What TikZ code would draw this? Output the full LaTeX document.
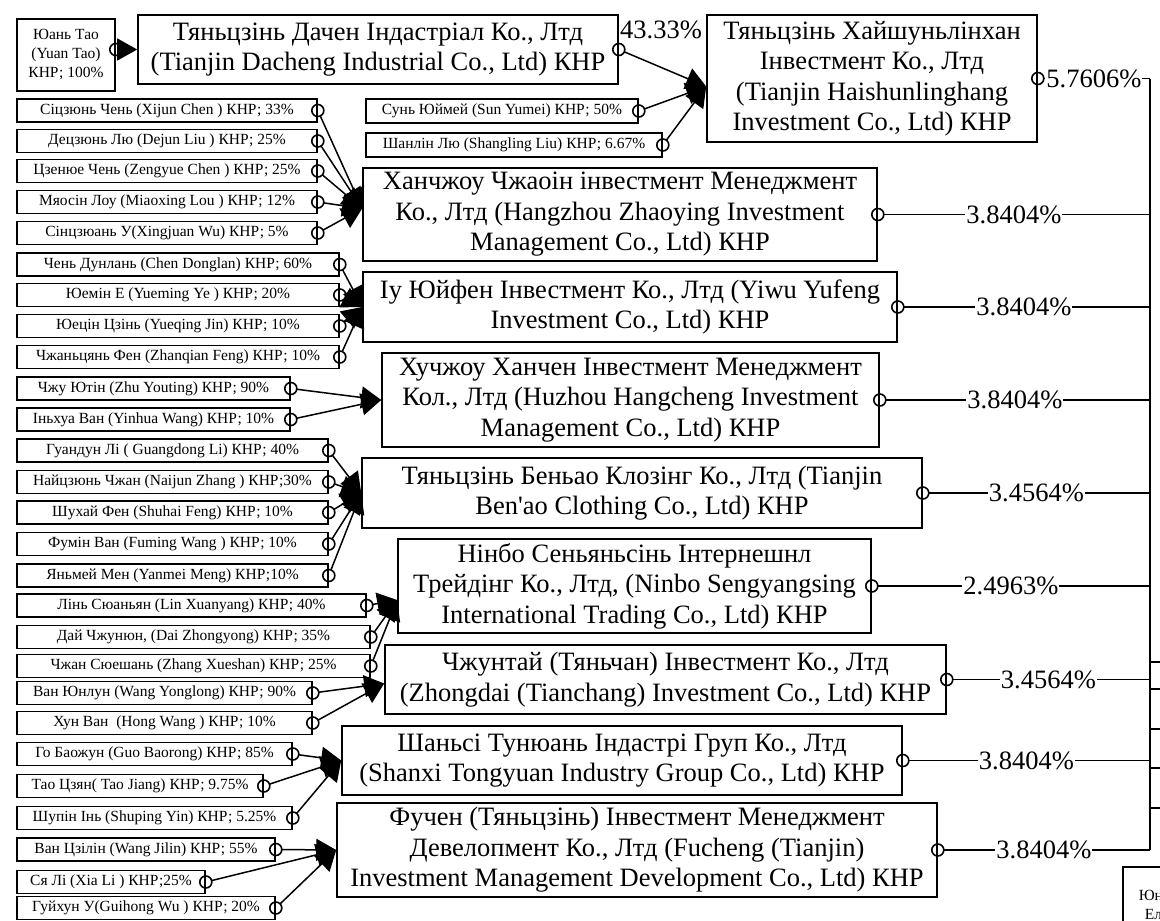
\documentclass[tikz,border=0pt]{standalone}
\usepackage{fontspec}
\setmainfont{Liberation Serif}[Ligatures=TeXOff]
\usetikzlibrary{arrows.meta}

\newcommand{\firmfont}{\fontsize{26.5}{30.5}\selectfont}
\newcommand{\leaffont}{\fontsize{15.5}{19}\selectfont}

\tikzset{
  firm/.style={draw, line width=1.6pt, align=center, inner xsep=2pt, inner ysep=0.5pt, font=\firmfont},
  leaf/.style={draw, line width=1.6pt, align=center, inner sep=1pt, minimum height=23, font=\leaffont},
  own/.style={line width=1.5pt, shorten <=6pt, -{Triangle[length=20pt,width=22pt]}},
  stake/.style={line width=1.5pt, shorten <=6pt},
  ring/.style={line width=1.6pt},
  pct/.style={fill=white, inner sep=1pt, font=\firmfont},
  bus/.style={line width=1.8pt}
}

\begin{document}
\begin{tikzpicture}[x=1pt,y=-1pt]
    \useasboundingbox (0,0) rectangle (1160,921);
    \clip (0,0) rectangle (1160,921);

    % Yuan Tao -> Dacheng
    \node[leaf, minimum width=98, minimum height=72] (yuan) at (66,55) {Юань Тао\\(Yuan Tao)\\КНР; 100\%};
    \node[firm, minimum width=480, minimum height=69] (dacheng) at (378,49.5)
        {Тяньцзінь Дачен Індастріал Ко., Лтд\\(Tianjin Dacheng Industrial Co., Ltd) КНР};

    % Haishunlinghang and its owners
    \node[firm, minimum width=330, minimum height=127] (haishun) at (872,78.5)
        {Тяньцзінь Хайшуньлінхан\\Інвестмент Ко., Лтд\\(Tianjin Haishunlinghang\\Investment Co., Ltd) КНР};
    \node[leaf, minimum width=272, minimum height=24] (sunyumei) at (502,111) {Сунь Юймей (Sun Yumei) КНР; 50\%};
    \node[leaf, minimum width=296, minimum height=24] (shangling) at (514,145) {Шанлін Лю (Shangling Liu) КНР; 6.67\%};
    \node[pct] (share4333) at (661,30) {43.33\%};

    % Zhaoying
    \node[firm, minimum width=514, minimum height=93] (zhaoying) at (620,214.5)
        {Ханчжоу Чжаоін інвестмент Менеджмент\\Ко., Лтд (Hangzhou Zhaoying Investment\\Management Co., Ltd) КНР};
    \node[leaf, minimum width=300] (xijun) at (167,110.5) {Сіцзюнь Чень (Xijun Chen ) КНР; 33\%};
    \node[leaf, minimum width=300] (dejun) at (167,141) {Децзюнь Лю (Dejun Liu ) КНР; 25\%};
    \node[leaf, minimum width=300] (zengyue) at (167,171) {Цзенюе Чень (Zengyue Chen ) КНР; 25\%};
    \node[leaf, minimum width=300] (miaoxing) at (167,202) {Мяосін Лоу (Miaoxing Lou ) КНР; 12\%};
    \node[leaf, minimum width=300] (xingjuan) at (167,233) {Сінцзюань У(Xingjuan Wu) КНР; 5\%};

    % Yiwu Yufeng
    \node[firm, minimum width=534, minimum height=70] (yiwu) at (630,307)
        {Іу Юйфен Інвестмент Ко., Лтд (Yiwu Yufeng\\Investment Co., Ltd) КНР};
    \node[leaf, minimum width=322] (donglan) at (178,264.5) {Чень Дунлань (Chen Donglan) КНР; 60\%};
    \node[leaf, minimum width=322] (yueming) at (178,295) {Юемін Е (Yueming Ye ) КНР; 20\%};
    \node[leaf, minimum width=322] (yueqing) at (178,326) {Юецін Цзінь (Yueqing Jin) КНР; 10\%};
    \node[leaf, minimum width=322] (zhanqian) at (178,357) {Чжаньцянь Фен (Zhanqian Feng) КНР; 10\%};

    % Huzhou Hangcheng
    \node[firm, minimum width=497, minimum height=94] (huzhou) at (630.5,400)
        {Хучжоу Ханчен Інвестмент Менеджмент\\Кол., Лтд (Huzhou Hangcheng Investment\\Management Co., Ltd) КНР};
    \node[leaf, minimum width=273] (youting) at (153.5,388.5) {Чжу Ютін (Zhu Youting) КНР; 90\%};
    \node[leaf, minimum width=273] (yinhua) at (153.5,419.5) {Іньхуа Ван (Yinhua Wang) КНР; 10\%};

    % Ben'ao Clothing
    \node[firm, minimum width=560, minimum height=70] (benao) at (642,493)
        {Тяньцзінь Беньао Клозінг Ко., Лтд (Tianjin\\Ben'ao Clothing Co., Ltd) КНР};
    \node[leaf, minimum width=311] (guangdong) at (172.5,450.5) {Гуандун Лі ( Guangdong Li) КНР; 40\%};
    \node[leaf, minimum width=311] (naijun) at (172.5,482) {Найцзюнь Чжан (Naijun Zhang ) КНР;30\%};
    \node[leaf, minimum width=311] (shuhai) at (172.5,512.5) {Шухай Фен (Shuhai Feng) КНР; 10\%};
    \node[leaf, minimum width=311] (fuming) at (172.5,544) {Фумін Ван (Fuming Wang ) КНР; 10\%};
    \node[leaf, minimum width=311] (yanmei) at (172.5,575.5) {Яньмей Мен (Yanmei Meng) КНР;10\%};

    % Ningbo Sengyangsing
    \node[firm, minimum width=473, minimum height=94] (ningbo) at (634.5,586)
        {Нінбо Сеньяньсінь Інтернешнл\\Трейдінг Ко., Лтд, (Ninbo Sengyangsing\\International Trading Co., Ltd) КНР};
    \node[leaf, minimum width=349] (xuanyang) at (191.5,605.5) {Лінь Сюаньян (Lin Xuanyang) КНР; 40\%};
    \node[leaf, minimum width=353] (zhongyong) at (193.5,637) {Дай Чжунюн, (Dai Zhongyong) КНР; 35\%};
    \node[leaf, minimum width=353] (xueshan) at (193.5,666) {Чжан Сюешань (Zhang Xueshan) КНР; 25\%};

    % Zhongdai (Tianchang)
    \node[firm, minimum width=561, minimum height=69] (zhongdai) at (665.5,679.5)
        {Чжунтай (Тяньчан) Інвестмент Ко., Лтд\\(Zhongdai (Tianchang) Investment Co., Ltd) КНР};
    \node[leaf, minimum width=295] (yonglong) at (164.5,693) {Ван Юнлун (Wang Yonglong) КНР; 90\%};
    \node[leaf, minimum width=295] (hongwang) at (164.5,723) {Хун Ван\ \ (Hong Wang ) КНР; 10\%};

    % Shanxi Tongyuan
    \node[firm, minimum width=560, minimum height=69] (shanxi) at (622,760.5)
        {Шаньсі Тунюань Індастрі Груп Ко., Лтд\\(Shanxi Tongyuan Industry Group Co., Ltd) КНР};
    \node[leaf, minimum width=275] (baorong) at (154.5,754) {Го Баожун (Guo Baorong) КНР; 85\%};
    \node[leaf, minimum width=246] (taojiang) at (140,786) {Тао Цзян( Tao Jiang) КНР; 9.75\%};
    \node[leaf, minimum width=275] (shuping) at (154.5,818) {Шупін Інь (Shuping Yin) КНР; 5.25\%};

    % Fucheng (Tianjin)
    \node[firm, minimum width=600, minimum height=94] (fucheng) at (637,850)
        {Фучен (Тяньцзінь) Інвестмент Менеджмент\\Девелопмент Ко., Лтд (Fucheng (Tianjin)\\Investment Management Development Co., Ltd) КНР};
    \node[leaf, minimum width=258] (jilin) at (146,849.5) {Ван Цзілін (Wang Jilin) КНР; 55\%};
    \node[leaf, minimum width=188] (xiali) at (111,882) {Ся Лі (Xia Li ) КНР;25\%};
    \node[leaf, minimum width=258] (guihong) at (146,908) {Гуйхун У(Guihong Wu ) КНР; 20\%};

    % owner box cut off at the corner
    \node[leaf, anchor=north west, minimum width=150, minimum height=76, text width=140, align=left] (owner) at (1122,866)
        {\hspace*{11pt}Юн\\\hspace*{17pt}Ел};

    % ownership links
    \draw[own] (yuan.east |- dacheng.west) -- (dacheng.west);
    \draw[own] (dacheng.east) -- ([yshift=-8pt]haishun.west);
    \draw[own] (sunyumei.east) -- ([yshift=-8pt]haishun.west);
    \draw[own] (shangling.east) -- ([yshift=-8pt]haishun.west);

    \draw[own] (xijun.east) -- ([yshift=6pt]zhaoying.west);
    \draw[own] (dejun.east) -- ([yshift=6pt]zhaoying.west);
    \draw[own] (zengyue.east) -- ([yshift=6pt]zhaoying.west);
    \draw[own] (miaoxing.east) -- ([yshift=6pt]zhaoying.west);
    \draw[own] (xingjuan.east) -- ([yshift=6pt]zhaoying.west);

    \draw[own] (donglan.east) -- (yiwu.west);
    \draw[own] (yueming.east) -- (yiwu.west);
    \draw[own] (yueqing.east) -- (yiwu.west);
    \draw[own] (zhanqian.east) -- (yiwu.west);

    \draw[own] (youting.east) -- (huzhou.west);
    \draw[own] (yinhua.east) -- (huzhou.west);

    \draw[own] (guangdong.east) -- (benao.west);
    \draw[own] (naijun.east) -- (benao.west);
    \draw[own] (shuhai.east) -- (benao.west);
    \draw[own] (fuming.east) -- (benao.west);
    \draw[own] (yanmei.east) -- (benao.west);

    \draw[own] (xuanyang.east) -- ([yshift=-14pt]ningbo.west);
    \draw[own] (zhongyong.east) -- ([yshift=-14pt]ningbo.west);
    \draw[own] (xueshan.east) -- ([yshift=-14pt]ningbo.west);

    \draw[own] (yonglong.east) -- ([yshift=-4pt]zhongdai.west);
    \draw[own] (hongwang.east) -- ([yshift=-4pt]zhongdai.west);

    \draw[own] (baorong.east) -- (shanxi.west);
    \draw[own] (taojiang.east) -- (shanxi.west);
    \draw[own] (shuping.east) -- (shanxi.west);

    \draw[own] (jilin.east) -- (fucheng.west);
    \draw[own] (xiali.east) -- (fucheng.west);
    \draw[own] (guihong.east) -- (fucheng.west);

    % shares into the bus on the right
    \coordinate (bus) at (1150,79);
    \draw[stake] (haishun.east) -- node[pct] (share1) {5.7606\%} (haishun.east -| bus);
    \draw[stake] (zhaoying.east) -- node[pct] (share2) {3.8404\%} (zhaoying.east -| bus);
    \draw[stake] (yiwu.east) -- node[pct] (share3) {3.8404\%} (yiwu.east -| bus);
    \draw[stake] (huzhou.east) -- node[pct] (share4) {3.8404\%} (huzhou.east -| bus);
    \draw[stake] (benao.east) -- node[pct] (share5) {3.4564\%} (benao.east -| bus);
    \draw[stake] (ningbo.east) -- node[pct] (share6) {2.4963\%} (ningbo.east -| bus);
    \draw[stake] (zhongdai.east) -- node[pct] (share7) {3.4564\%} (zhongdai.east -| bus);
    \draw[stake] (shanxi.east) -- node[pct] (share8) {3.8404\%} (shanxi.east -| bus);
    \draw[stake] (fucheng.east) -- node[pct] (share9) {3.8404\%} (fucheng.east -| bus);
    \draw[bus] (bus) -- (fucheng.east -| bus);

    % stubs running off the right edge
    \foreach \y in {662,689,729,768,808}
        \draw[bus] (1150,\y) -- (1170,\y);

    % open rings where each link starts
    \draw[ring] (yuan.east |- dacheng.west) circle[radius=6pt];
    \foreach \n in {dacheng,sunyumei,shangling,xijun,dejun,zengyue,miaoxing,xingjuan,
                    donglan,yueming,yueqing,zhanqian,youting,yinhua,
                    guangdong,naijun,shuhai,fuming,yanmei,xuanyang,zhongyong,xueshan,
                    yonglong,hongwang,baorong,taojiang,shuping,jilin,xiali,guihong,
                    haishun,zhaoying,yiwu,huzhou,benao,ningbo,zhongdai,shanxi,fucheng}
        \draw[ring] (\n.east) circle[radius=6pt];

\end{tikzpicture}
\end{document}
